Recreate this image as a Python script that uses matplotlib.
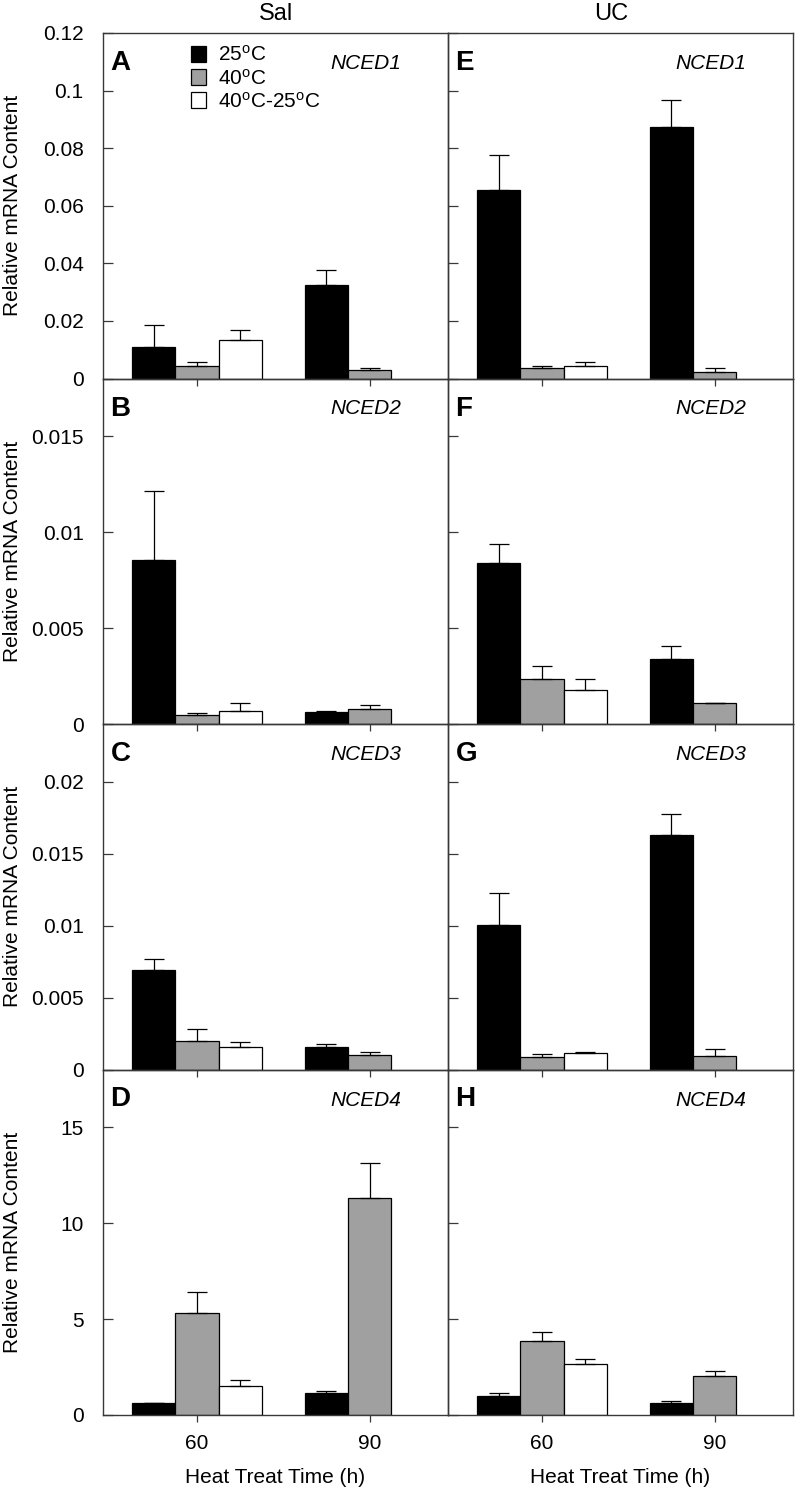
import numpy as np
import matplotlib
matplotlib.use('Agg')
import matplotlib.pyplot as plt
from matplotlib.patches import Patch

plt.rcParams['font.family'] = ['Liberation Sans', 'DejaVu Sans']
plt.rcParams['mathtext.fontset'] = 'custom'
plt.rcParams['mathtext.rm'] = 'Liberation Sans'
plt.rcParams['mathtext.it'] = 'Liberation Sans:italic'

# ---------------- data ----------------
times = ['60', '90']
treatments = ['25$^{\\rm o}$C', '40$^{\\rm o}$C', '40$^{\\rm o}$C-25$^{\\rm o}$C']
genes = ['NCED1', 'NCED2', 'NCED3', 'NCED4']
cultivars = ['Sal', 'UC']
panel_letters = [['A', 'E'], ['B', 'F'], ['C', 'G'], ['D', 'H']]

# rows: 25C, 40C, 40C-25C ; columns: 60 h, 90 h
sal_nced1_mean = [[0.0111, 0.0326], [0.0045, 0.0028], [0.0132, np.nan]]
sal_nced1_se = [[0.0076, 0.0052], [0.0014, 0.0007], [0.0035, np.nan]]
uc_nced1_mean = [[0.0653, 0.0872], [0.0035, 0.0024], [0.0042, np.nan]]
uc_nced1_se = [[0.0125, 0.0097], [0.0007, 0.0014], [0.0017, np.nan]]

sal_nced2_mean = [[0.00855, 0.00063], [0.00049, 0.0008], [0.0007, np.nan]]
sal_nced2_se = [[0.00358, 0.00007], [0.00008, 0.00018], [0.0004, np.nan]]
uc_nced2_mean = [[0.00838, 0.00341], [0.00237, 0.0011], [0.00178, np.nan]]
uc_nced2_se = [[0.00098, 0.00067], [0.00064, 0.00001], [0.00055, np.nan]]

sal_nced3_mean = [[0.00694, 0.00153], [0.00201, 0.00102], [0.00157, np.nan]]
sal_nced3_se = [[0.00075, 0.00025], [0.00077, 0.00018], [0.00033, np.nan]]
uc_nced3_mean = [[0.01002, 0.0163], [0.0009, 0.00095], [0.00116, np.nan]]
uc_nced3_se = [[0.00225, 0.00143], [0.00016, 0.00049], [0.00009, np.nan]]

sal_nced4_mean = [[0.61, 1.13], [5.32, 11.32], [1.53, np.nan]]
sal_nced4_se = [[0.02, 0.10], [1.11, 1.79], [0.30, np.nan]]
uc_nced4_mean = [[1.01, 0.64], [3.86, 2.03], [2.66, np.nan]]
uc_nced4_se = [[0.14, 0.09], [0.45, 0.27], [0.26, np.nan]]

means = {
    'Sal': [sal_nced1_mean, sal_nced2_mean, sal_nced3_mean, sal_nced4_mean],
    'UC': [uc_nced1_mean, uc_nced2_mean, uc_nced3_mean, uc_nced4_mean],
}
ses = {
    'Sal': [sal_nced1_se, sal_nced2_se, sal_nced3_se, sal_nced4_se],
    'UC': [uc_nced1_se, uc_nced2_se, uc_nced3_se, uc_nced4_se],
}

y_max = [0.12, 0.018, 0.024, 18]
y_ticks = [[0, 0.02, 0.04, 0.06, 0.08, 0.1, 0.12],
           [0, 0.005, 0.01, 0.015],
           [0, 0.005, 0.01, 0.015, 0.02],
           [0, 5, 10, 15]]

colors = ['black', '#a0a0a0', 'white']
offsets = [-0.25, 0.0, 0.25]
bar_w = 0.25
spine_col = '#383838'

# ---------------- figure ----------------
W, H = 796, 1489
fig = plt.figure(figsize=(W / 100, H / 100), dpi=100)

left_px = [103, 448]
ax_w_px = 345
top_px = 33
ax_h_px = 345.5

for r, gene in enumerate(genes):
    for c, cult in enumerate(cultivars):
        x0 = left_px[c] / W
        y0 = 1 - (top_px + (r + 1) * ax_h_px) / H
        ax = fig.add_axes([x0, y0, ax_w_px / W, ax_h_px / H])
        ax.patch.set_visible(False)
        x = np.arange(len(times))
        m_all = means[cult][r]
        s_all = ses[cult][r]
        for k in range(len(treatments)):
            m = np.array(m_all[k], dtype=float)
            s = np.array(s_all[k], dtype=float)
            ok = ~np.isnan(m)
            ax.bar(x[ok] + offsets[k], m[ok], width=bar_w, color=colors[k],
                   edgecolor='black', linewidth=0.9, zorder=2)
            ax.errorbar(x[ok] + offsets[k], m[ok],
                        yerr=[np.zeros(ok.sum()), s[ok]], fmt='none',
                        ecolor='black', elinewidth=0.9, capsize=7.5,
                        capthick=0.9, zorder=3)
        ax.set_xlim(-0.545, 1.455)
        ax.set_ylim(0, y_max[r])
        ax.set_yticks(y_ticks[r])
        ax.set_yticklabels(['%g' % v for v in y_ticks[r]])
        ax.set_xticks(x)
        ax.set_xticklabels(times)
        for sp in ax.spines.values():
            sp.set_color(spine_col)
            sp.set_linewidth(1.0)
        ax.tick_params(axis='y', direction='in', length=7, width=0.9,
                       color=spine_col, labelsize=15, pad=14,
                       right=False, labelleft=(c == 0))
        ax.tick_params(axis='x', direction='out', length=5, width=0.9,
                       color=spine_col, labelsize=15, pad=8.5, top=False,
                       labelbottom=(r == len(genes) - 1))
        if c == 0:
            ax.text(-0.261, 0.5, 'Relative mRNA Content', rotation=90,
                    ha='center', va='center', fontsize=15,
                    transform=ax.transAxes)
        if r == len(genes) - 1:
            ax.set_xlabel('Heat Treat Time (h)', fontsize=15, labelpad=11)
        ax.text(0.022, 1 - 37 / ax_h_px, panel_letters[r][c],
                fontsize=20, fontweight='bold', ha='left', va='baseline',
                transform=ax.transAxes)
        ax.text(0.865, 1 - 36 / ax_h_px, gene, fontsize=15,
                style='italic', ha='right', va='baseline',
                transform=ax.transAxes)
        if r == 0 and c == 0:
            handles = [Patch(facecolor=col, edgecolor='black', linewidth=0.9)
                       for col in colors]
            ax.legend(handles, treatments, loc='upper left',
                      bbox_to_anchor=(0.255, 0.965), frameon=False,
                      fontsize=15, handlelength=0.72, handleheight=0.8,
                      handletextpad=0.6, labelspacing=0.15, borderpad=0,
                      borderaxespad=0)

fig.text(276 / W, 1 - 13.5 / H, cultivars[0], ha='center', va='center',
         fontsize=17)
fig.text(611 / W, 1 - 13.5 / H, cultivars[1], ha='center', va='center',
         fontsize=17)

fig.savefig('out.png', dpi=100)
